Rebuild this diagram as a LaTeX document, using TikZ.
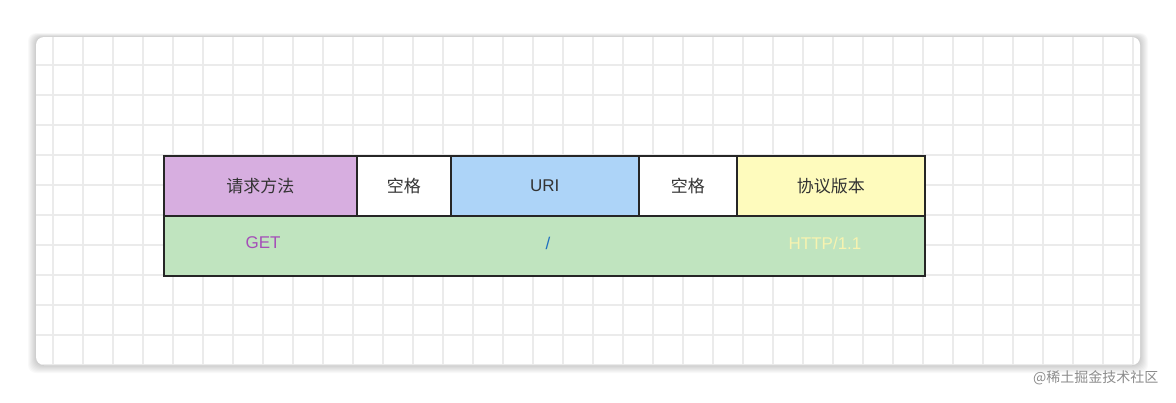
\documentclass[tikz,border=0pt]{standalone}
\usepackage{fontspec}
\setmainfont{Liberation Sans}
\newfontfamily\cjk{Noto Sans CJK SC}
\definecolor{cpur}{HTML}{D7AEE0}
\definecolor{cblue}{HTML}{ADD4F8}
\definecolor{cyel}{HTML}{FEFBBD}
\definecolor{cgrn}{HTML}{C0E4BF}
\definecolor{gridc}{HTML}{EBEBEB}
\definecolor{tpur}{HTML}{A54FB8}
\definecolor{tblue}{HTML}{1F6FC0}
\definecolor{tyel}{HTML}{F7F3B0}
\tikzset{cell/.style={draw=black!85,line width=1.6pt,minimum height=60pt,inner sep=0pt,font=\cjk\fontsize{17}{17}\selectfont,text=black!80},
 val/.style={font=\fontsize{17}{17}\selectfont}}
\begin{document}
\begin{tikzpicture}[x=1pt,y=-1pt]
\useasboundingbox (0,0) rectangle (1176,402);
\fill[white] (0,0) rectangle (1176,402);
\foreach \i in {1,...,8} \fill[black,opacity=0.025,rounded corners=8] ({36-\i},{37-\i*0.5}) rectangle ({1140+\i},{365+\i});
\fill[white,rounded corners=8] (36,37) rectangle (1140,365);
\begin{scope}
\clip[rounded corners=8] (36,37) rectangle (1140,365);
\foreach \x in {53,83,...,1140} \draw[gridc,line width=1.2pt] (\x,37) -- (\x,365);
\foreach \y in {65,95,...,365} \draw[gridc,line width=1.2pt] (36,\y) -- (1140,\y);
\end{scope}
\node[cell,fill=cgrn,minimum width=761pt,anchor=north west] (row2) at (163,215) {};
\node[cell,fill=cpur,minimum width=193pt,anchor=north west] (c1) at (163,155) {请求方法};
\node[cell,fill=white,minimum width=94pt,anchor=north west] (c2) at (356,155) {空格};
\node[cell,fill=cblue,minimum width=188pt,anchor=north west,font=\fontsize{17}{17}\selectfont] (c3) at (450,155) {URI};
\node[cell,fill=white,minimum width=98pt,anchor=north west] (c4) at (638,155) {空格};
\node[cell,fill=cyel,minimum width=188pt,anchor=north west] (c5) at (736,155) {协议版本};
\node[val,text=tpur] (v1) at (263,243) {GET};
\node[val,text=tblue] (v2) at (548,243) {/};
\node[val,text=tyel] (v3) at (825,243) {HTTP/1.1};
\node[font=\cjk\fontsize{14}{14}\selectfont,text=black!45,anchor=east] (wm) at (1162,378) {@稀土掘金技术社区};
\end{tikzpicture}
\end{document}
